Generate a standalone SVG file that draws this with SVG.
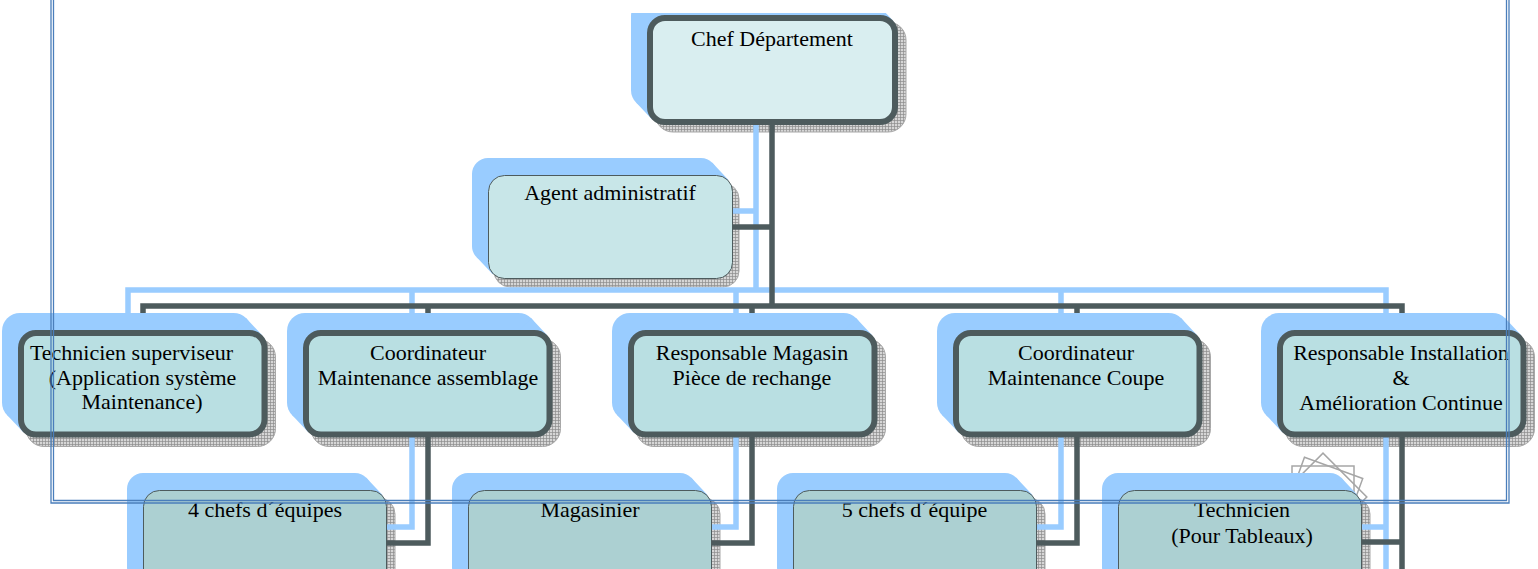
<svg xmlns="http://www.w3.org/2000/svg" width="1538" height="569" viewBox="0 0 1538 569">
<style>
.blue{fill:#99ccff}
.grey{fill:url(#hatch);stroke:#a8a8a8;stroke-width:1}
.main{fill:#b9dfe2;stroke:#4d5b5d;stroke-width:6}
.chef{fill:#d9eef0;stroke:#4d5b5d;stroke-width:6}
.thin{fill:#c8e6e8;stroke:#4d5b5d;stroke-width:1}
.low{fill:#acd0d2;stroke:#4d5b5d;stroke-width:1}
.cb{fill:none;stroke:#99ccff;stroke-width:5.5}
.cd{fill:none;stroke:#4d5b5d;stroke-width:5.5}
.t{font-family:"Liberation Serif","Times New Roman",serif;font-size:22px;fill:#000;text-anchor:middle}
.frame{fill:none;stroke:#4a7ebb;stroke-width:1.3}
.icon{fill:none;stroke:#a6a6a6;stroke-width:1.5}
</style>
<defs>
<pattern id="hatch" width="3" height="3" patternUnits="userSpaceOnUse"><rect width="3" height="3" fill="#d6d6d6"/><path d="M0,0.5H3M0.5,0V3" stroke="#8c8c8c" stroke-width="0.7"/></pattern>
<clipPath id="top"><rect x="0" y="13" width="1538" height="556"/></clipPath>
</defs>

<!-- decorative icon -->
<g id="icon">
<rect class="icon" x="1292" y="466" width="62" height="62"/>
<rect class="icon" x="1292" y="466" width="62" height="62" transform="rotate(20 1323 497)"/>
<rect class="icon" x="1292" y="466" width="62" height="62" transform="rotate(45 1323 497)"/>
</g>

<!-- grey hatched shadows -->
<g id="shadows">
<rect class="grey" x="655" y="22" width="251" height="110" rx="18"/>
<rect class="grey" x="494" y="183" width="245" height="104" rx="16"/>
<rect class="grey" x="26" y="339" width="249.5" height="107.5" rx="18"/>
<rect class="grey" x="311" y="339" width="249.5" height="107.5" rx="18"/>
<rect class="grey" x="636" y="339" width="249.5" height="107.5" rx="18"/>
<rect class="grey" x="961" y="339" width="249.5" height="107.5" rx="18"/>
<rect class="grey" x="1285" y="339" width="249.5" height="107.5" rx="18"/>
<rect class="grey" x="151" y="498" width="244" height="110" rx="16"/>
<rect class="grey" x="476" y="498" width="244" height="110" rx="16"/>
<rect class="grey" x="801" y="498" width="244" height="110" rx="16"/>
<rect class="grey" x="1126" y="498" width="244" height="110" rx="16"/>
</g>

<!-- connectors -->
<g id="connectors">
<path class="cb" d="M756,108V290M733,211H756M128,313V290H1386V313M412,290V313M736,290V313M1061,290V313M412,420V527H387M736,420V527H712M1061,420V527H1036M1386,420V580M1386,527H1360"/>
<path class="cd" d="M772,125V306M733,227H772M143,336V306H1402V336M428,306V336M752,306V336M1077,306V336M428,436V543H387M752,436V543H712M1077,436V543H1036M1402,436V580M1402,542H1360"/>
</g>

<g id="chef">
<g clip-path="url(#top)" class="blue">
<rect x="631" y="-2" width="251" height="110" rx="18"/>
<polygon points="880,33 892.7,20.3 876.7,3.3 864,16"/>
<polygon points="665,107 652.3,119.7 636.3,102.7 649,90"/>
</g>
<rect class="chef" x="650" y="18" width="245" height="104" rx="15"/>
<text class="t" x="772" y="46">Chef Département</text>
</g>

<g id="agent">
<g class="blue">
<rect x="472" y="158" width="245" height="104" rx="16"/>
<polygon points="717,191 728.3,179.7 712.3,162.7 701,174"/>
<polygon points="504,263 492.7,274.3 476.7,257.3 488,246"/>
</g>
<rect class="thin" x="488.5" y="175.5" width="244" height="103" rx="16"/>
<text class="t" x="610" y="200">Agent administratif</text>
</g>

<g id="technicien-superviseur">
<g class="blue">
<rect x="2" y="313" width="249.5" height="107.5" rx="18"/>
<polygon points="249.5,348 262.2,335.3 246.2,318.3 233.5,331"/>
<polygon points="36,419.5 23.3,432.2 7.3,415.2 20,402.5"/>
</g>
<rect class="main" x="21" y="333" width="243.5" height="101.5" rx="15"/>
<text class="t" x="131.5" y="360">Technicien superviseur</text>
<text class="t" x="142.5" y="385">(Application système</text>
<text class="t" x="142" y="409">Maintenance)</text>
</g>

<g id="coord-assemblage">
<g class="blue">
<rect x="287" y="313" width="249.5" height="107.5" rx="18"/>
<polygon points="534.5,348 547.2,335.3 531.2,318.3 518.5,331"/>
<polygon points="321,419.5 308.3,432.2 292.3,415.2 305,402.5"/>
</g>
<rect class="main" x="306" y="333" width="243.5" height="101.5" rx="15"/>
<text class="t" x="428" y="360">Coordinateur</text>
<text class="t" x="428" y="385">Maintenance assemblage</text>
</g>

<g id="resp-magasin">
<g class="blue">
<rect x="612" y="313" width="249.5" height="107.5" rx="18"/>
<polygon points="859.5,348 872.2,335.3 856.2,318.3 843.5,331"/>
<polygon points="646,419.5 633.3,432.2 617.3,415.2 630,402.5"/>
</g>
<rect class="main" x="631" y="333" width="243.5" height="101.5" rx="15"/>
<text class="t" x="752" y="360">Responsable Magasin</text>
<text class="t" x="752" y="385">Pièce de rechange</text>
</g>

<g id="coord-coupe">
<g class="blue">
<rect x="937" y="313" width="249.5" height="107.5" rx="18"/>
<polygon points="1184.5,348 1197.2,335.3 1181.2,318.3 1168.5,331"/>
<polygon points="971,419.5 958.3,432.2 942.3,415.2 955,402.5"/>
</g>
<rect class="main" x="956" y="333" width="243.5" height="101.5" rx="15"/>
<text class="t" x="1076" y="360">Coordinateur</text>
<text class="t" x="1076" y="385">Maintenance Coupe</text>
</g>

<g id="resp-installation">
<g class="blue">
<rect x="1261" y="313" width="249.5" height="107.5" rx="18"/>
<polygon points="1508.5,348 1521.2,335.3 1505.2,318.3 1492.5,331"/>
<polygon points="1295,419.5 1282.3,432.2 1266.3,415.2 1279,402.5"/>
</g>
<rect class="main" x="1280" y="333" width="243.5" height="101.5" rx="15"/>
<text class="t" x="1401" y="360">Responsable Installation</text>
<text class="t" x="1401" y="385">&amp;</text>
<text class="t" x="1401" y="410">Amélioration Continue</text>
</g>

<g id="chefs-equipes-4">
<g class="blue">
<rect x="127" y="473" width="244" height="110" rx="16"/>
<polygon points="371,506 382.3,494.7 366.3,477.7 355,489"/>
</g>
<rect class="low" x="143.5" y="490.5" width="243" height="110" rx="16"/>
<text class="t" x="265" y="517">4 chefs d´équipes</text>
</g>

<g id="magasinier">
<g class="blue">
<rect x="452" y="473" width="244" height="110" rx="16"/>
<polygon points="696,506 707.3,494.7 691.3,477.7 680,489"/>
</g>
<rect class="low" x="468.5" y="490.5" width="243" height="110" rx="16"/>
<text class="t" x="590" y="517">Magasinier</text>
</g>

<g id="chefs-equipe-5">
<g class="blue">
<rect x="777" y="473" width="244" height="110" rx="16"/>
<polygon points="1021,506 1032.3,494.7 1016.3,477.7 1005,489"/>
</g>
<rect class="low" x="793.5" y="490.5" width="243" height="110" rx="16"/>
<text class="t" x="914.5" y="517">5 chefs d´équipe</text>
</g>

<g id="technicien-tableaux">
<g class="blue">
<rect x="1102" y="473" width="244" height="110" rx="16"/>
<polygon points="1346,506 1357.3,494.7 1341.3,477.7 1330,489"/>
</g>
<rect class="low" x="1118.5" y="490.5" width="243" height="110" rx="16"/>
<text class="t" x="1242" y="517">Technicien</text>
<text class="t" x="1242" y="543">(Pour Tableaux)</text>
</g>

<!-- page frame -->
<g id="frame">
<path class="frame" d="M51,-10V503H1509V-10"/>
<path class="frame" d="M53.5,-10V500.5H1506.5V-10"/>
</g>
</svg>
